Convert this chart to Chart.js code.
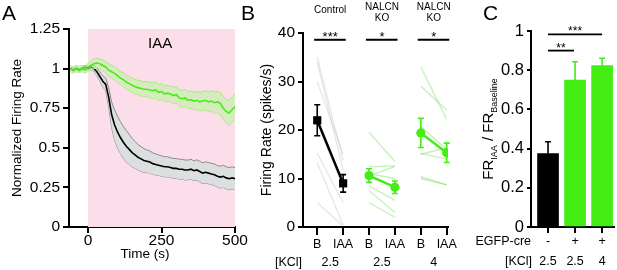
<!DOCTYPE html>
<html>
<head>
<meta charset="utf-8">
<script src="https://cdn.jsdelivr.net/npm/chart.js@4.4.1/dist/chart.umd.min.js"></script>
<style>
  body { margin: 0; background: #fff; }
  #figure { position: relative; width: 617px; height: 270px; overflow: hidden; }
  #figure canvas { position: absolute; top: 0; }
</style>
</head>
<body>
<div id="figure">
  <canvas id="panelA" width="252" height="270" style="left:0px"></canvas>
  <canvas id="panelB" width="222" height="270" style="left:238px"></canvas>
  <canvas id="panelC" width="157" height="270" style="left:460px"></canvas>
</div>
<script>
// ---- panel A: normalized firing rate over time ----
const timeS = [-60, -50, -40, -30, -20, -10, 0, 10, 20, 30, 40, 50, 60, 70, 80, 90, 100,
  110, 120, 130, 140, 150, 160, 170, 180, 190, 200, 210, 220, 230, 240, 250, 260, 270,
  280, 290, 300, 310, 320, 330, 340, 350, 360, 370, 380, 390, 400, 410, 420, 430, 440,
  450, 460, 470, 480, 490, 500];
const ctrlMean = [1.00, 0.99, 1.00, 0.99, 1.00, 1.01, 1.00, 1.01, 1.00, 0.98, 0.95, 0.92,
  0.90, 0.82, 0.71, 0.645, 0.60, 0.565, 0.535, 0.51, 0.49, 0.47, 0.455, 0.44, 0.43, 0.42,
  0.415, 0.41, 0.40, 0.395, 0.39, 0.385, 0.38, 0.38, 0.375, 0.37, 0.37, 0.365, 0.365,
  0.36, 0.36, 0.365, 0.355, 0.36, 0.35, 0.34, 0.345, 0.34, 0.335, 0.33, 0.32, 0.315,
  0.32, 0.31, 0.305, 0.31, 0.305];
const ctrlSem = [0.01, 0.01, 0.01, 0.01, 0.01, 0.01, 0.01, 0.015, 0.02, 0.025, 0.03, 0.035,
  0.04, 0.06, 0.08, 0.095, 0.10, 0.10, 0.10, 0.10, 0.095, 0.09, 0.085, 0.08, 0.078, 0.075,
  0.072, 0.07, 0.068, 0.066, 0.065, 0.064, 0.063, 0.064, 0.062, 0.063, 0.062, 0.063, 0.062,
  0.063, 0.062, 0.063, 0.062, 0.064, 0.065, 0.066, 0.066, 0.067, 0.067, 0.068, 0.068, 0.069,
  0.07, 0.07, 0.07, 0.07, 0.07];
const koMean = [1.00, 0.99, 1.00, 0.995, 1.00, 0.99, 1.01, 1.02, 1.03, 1.035, 1.03, 1.02,
  1.01, 0.99, 0.98, 0.97, 0.955, 0.94, 0.93, 0.915, 0.905, 0.895, 0.885, 0.88, 0.875, 0.87,
  0.87, 0.865, 0.86, 0.865, 0.85, 0.855, 0.84, 0.845, 0.84, 0.83, 0.835, 0.815, 0.81,
  0.815, 0.80, 0.805, 0.795, 0.80, 0.79, 0.795, 0.80, 0.79, 0.795, 0.785, 0.79, 0.78,
  0.75, 0.73, 0.72, 0.74, 0.76];
const koSem = [0.02, 0.02, 0.02, 0.02, 0.02, 0.02, 0.025, 0.03, 0.03, 0.03, 0.03, 0.035,
  0.035, 0.04, 0.04, 0.04, 0.042, 0.042, 0.044, 0.044, 0.045, 0.045, 0.046, 0.046, 0.047,
  0.047, 0.048, 0.048, 0.049, 0.05, 0.05, 0.05, 0.05, 0.051, 0.051, 0.052, 0.052, 0.053,
  0.053, 0.054, 0.055, 0.055, 0.056, 0.057, 0.058, 0.059, 0.06, 0.062, 0.064, 0.066, 0.068,
  0.07, 0.072, 0.075, 0.078, 0.08, 0.08];
const timeTicks = [0, 250, 500];
const rateTicks = [0, 0.25, 0.5, 0.75, 1, 1.25];
const iaaWindow = [0, 500];

// ---- panel B: paired firing rates ----
const pairLabels = ['B', 'IAA', 'B', 'IAA', 'B', 'IAA'];
const groupNames = [['Control'], ['NALCN', 'KO'], ['NALCN', 'KO']];
const kclLevels = ['2.5', '2.5', '4'];
const groupStars = ['***', '*', '*'];
const ctrlCells = [[35, 13.8], [34, 11.7], [30, 15], [21.5, 8.2], [15.2, 5], [13.2, 0.4], [5, 0.2]];
const koLowCells = [[19.5, 13.5], [12.4, 12.6], [11, 10], [10.5, 12.5], [8.5, 5.5], [7.5, 3], [5, 2]];
const koHighCells = [[33, 22.2], [29, 24.1], [20.7, 16], [15, 16.3], [15.2, 14], [10.4, 8.7], [10, 8.7]];
const pairMeans = [[22, 9], [10.6, 8.2], [19.4, 15.3]];
const pairErrs = [[3.2, 1.8], [1.4, 1.3], [3, 2]];
const spikeTicks = [0, 10, 20, 30, 40];

// ---- panel C: IAA / baseline ratio ----
const ratioMeans = [0.375, 0.75, 0.823];
const ratioErrs = [0.06, 0.093, 0.038];
const egfpRow = ['-', '+', '+'];
const kclRowC = ['2.5', '2.5', '4'];
const ratioTicks = [0, 0.2, 0.4, 0.6, 0.8, 1];
const ratioSig = [[0, 2, 0.983, '***'], [0, 0.96, 0.9, '**']];

const FONT = '"Liberation Sans", Arial, Helvetica, sans-serif';
const GREEN = '#44ee14';
Chart.defaults.font.family = FONT;
Chart.defaults.color = '#000';

function font(px) { return px + 'px ' + FONT; }

function axisBase(tickLen) {
    return {
        z: 1,
        border: { display: true, color: '#000', width: 2 },
        grid: { display: true, drawOnChartArea: false, drawTicks: true, tickLength: tickLen, color: '#000', lineWidth: 2, offset: false },
    };
}

// panel letter drawn in the top left corner
function panelLetter(letter, x) {
    return {
        id: 'letter' + letter,
        afterDraw(chart) {
            const ctx = chart.ctx;
            ctx.save();
            ctx.font = font(21);
            ctx.fillStyle = '#000';
            ctx.textBaseline = 'alphabetic';
            ctx.fillText(letter, x, 20);
            ctx.restore();
        }
    };
}

/**
 * Panel A
 */
const iaaShade = {
    id: 'iaaShade',
    beforeDatasetsDraw(chart) {
        const { ctx, scales: { x, y } } = chart;
        const left = x.getPixelForValue(iaaWindow[0]);
        const right = x.getPixelForValue(iaaWindow[1]);
        const top = y.getPixelForValue(1.25);
        const bottom = y.getPixelForValue(0);
        ctx.save();
        ctx.fillStyle = '#fcdeea';
        ctx.fillRect(left, top, right - left, bottom - top);
        ctx.fillStyle = '#000';
        ctx.font = font(15);
        ctx.textAlign = 'center';
        ctx.textBaseline = 'middle';
        ctx.fillText('IAA', x.getPixelForValue(245), y.getPixelForValue(1.155));
        ctx.restore();
    },
    afterDraw(chart) {
        const ctx = chart.ctx;
        ctx.save();
        ctx.font = font(13.5);
        ctx.fillStyle = '#000';
        ctx.textAlign = 'center';
        ctx.textBaseline = 'middle';
        ctx.fillText('Time (s)', 145, 254);
        ctx.restore();
    }
};

const toPoints = (vals) => vals.map((v, i) => ({ x: timeS[i], y: v }));
const bandEdge = (mean, sem, sign) => mean.map((v, i) => ({ x: timeS[i], y: v + sign * sem[i] }));

new Chart(document.getElementById('panelA'), {
    type: 'line',
    data: {
        datasets: [
            { data: toPoints(koMean), borderColor: GREEN, borderWidth: 1.6 },
            { data: bandEdge(koMean, koSem, 1), borderColor: '#a2ee7c', borderWidth: 1, fill: '+1', backgroundColor: 'rgba(190,245,160,0.6)' },
            { data: bandEdge(koMean, koSem, -1), borderColor: '#a2ee7c', borderWidth: 1 },
            { data: toPoints(ctrlMean), borderColor: '#000', borderWidth: 1.6 },
            { data: bandEdge(ctrlMean, ctrlSem, 1), borderColor: '#8a8a8a', borderWidth: 1, fill: '+1', backgroundColor: 'rgba(218,222,222,0.95)' },
            { data: bandEdge(ctrlMean, ctrlSem, -1), borderColor: '#8a8a8a', borderWidth: 1 }
        ]
    },
    options: {
        responsive: false,
        animation: false,
        layout: { padding: { left: 0, top: 29, right: 17, bottom: 0 } },
        elements: { point: { radius: 0 }, line: { tension: 0 } },
        plugins: { legend: { display: false }, tooltip: { enabled: false } },
        scales: {
            x: Object.assign(axisBase(6), {
                type: 'linear', min: -65, max: 500,
                ticks: { font: { size: 15.5 }, color: '#000', padding: -2, maxRotation: 0 },
                afterBuildTicks: (s) => { s.ticks = timeTicks.map(v => ({ value: v })); },
                afterFit: (s) => { s.height = 43; s.paddingLeft = 0; s.paddingRight = 0; }
            }),
            y: Object.assign(axisBase(6), {
                min: 0, max: 1.25,
                ticks: { font: { size: 15.5 }, color: '#000', padding: 3, callback: (v) => String(v) },
                title: { display: true, text: 'Normalized Firing Rate', font: { size: 13.5 }, color: '#000', padding: { top: 9, bottom: 0 } },
                afterBuildTicks: (s) => { s.ticks = rateTicks.map(v => ({ value: v })); },
                afterFit: (s) => { s.width = 69; s.paddingTop = 0; s.paddingBottom = 0; }
            })
        }
    },
    plugins: [iaaShade, panelLetter('A', 2)]
});

/**
 * Panel B
 */
const groupCells = [ctrlCells, koLowCells, koHighCells];
const groupColors = ['#000', GREEN, GREEN];
const cellColors = ['rgba(190,196,196,0.4)', 'rgba(130,230,110,0.5)', 'rgba(130,230,110,0.5)'];
const markerStyles = ['rect', 'circle', 'circle'];
const markerSizes = [5.8, 4.6, 4.6];

const pairDatasets = [];
pairMeans.forEach((m, g) => {
    pairDatasets.push({
        data: [{ x: 2 * g, y: m[0] }, { x: 2 * g + 1, y: m[1] }],
        borderColor: groupColors[g], borderWidth: 2.5,
        pointStyle: markerStyles[g], pointRadius: markerSizes[g],
        pointBackgroundColor: groupColors[g], pointBorderWidth: 0
    });
});
groupCells.forEach((cells, g) => {
    cells.forEach(c => {
        pairDatasets.push({
            data: [{ x: 2 * g, y: c[0] }, { x: 2 * g + 1, y: c[1] }],
            borderColor: cellColors[g], borderWidth: 1.3, pointRadius: 0
        });
    });
});

const pairExtras = {
    id: 'pairExtras',
    afterDatasetsDraw(chart) {
        const { ctx, scales: { x, y } } = chart;
        ctx.save();
        ctx.lineWidth = 1.6;
        pairMeans.forEach((m, g) => {
            ctx.strokeStyle = groupColors[g];
            m.forEach((v, k) => {
                const px = x.getPixelForValue(2 * g + k);
                const hi = y.getPixelForValue(v + pairErrs[g][k]);
                const lo = y.getPixelForValue(v - pairErrs[g][k]);
                ctx.beginPath();
                ctx.moveTo(px, hi); ctx.lineTo(px, lo);
                ctx.moveTo(px - 3, hi); ctx.lineTo(px + 3, hi);
                ctx.moveTo(px - 3, lo); ctx.lineTo(px + 3, lo);
                ctx.stroke();
            });
        });
        ctx.restore();
    },
    afterDraw(chart) {
        const { ctx, chartArea, scales: { x, y } } = chart;
        ctx.save();
        ctx.fillStyle = '#000';
        ctx.strokeStyle = '#000';
        ctx.textAlign = 'center';
        groupNames.forEach((lines, g) => {
            const cx = (x.getPixelForValue(2 * g) + x.getPixelForValue(2 * g + 1)) / 2;
            // group heading
            ctx.font = font(10);
            ctx.textBaseline = 'middle';
            if (lines.length === 1) {
                ctx.fillText(lines[0], cx, 10.5);
            } else {
                ctx.fillText(lines[0], cx, 7);
                ctx.fillText(lines[1], cx, 18.5);
            }
            // significance bar
            const barY = y.getPixelForValue(38.6);
            ctx.lineWidth = 2;
            ctx.beginPath();
            ctx.moveTo(x.getPixelForValue(2 * g - 0.12), barY);
            ctx.lineTo(x.getPixelForValue(2 * g + 1.1), barY);
            ctx.stroke();
            ctx.font = font(13);
            ctx.textBaseline = 'alphabetic';
            ctx.fillText(groupStars[g], cx, barY + 1);
            // KCl row
            ctx.font = font(12.5);
            ctx.textBaseline = 'middle';
            ctx.fillText(kclLevels[g], cx, 263);
        });
        ctx.textAlign = 'right';
        ctx.fillText('[KCl]', chartArea.left - 1, 263);
        ctx.restore();
    }
};

new Chart(document.getElementById('panelB'), {
    type: 'line',
    data: { datasets: pairDatasets },
    options: {
        responsive: false,
        animation: false,
        layout: { padding: { left: 0, top: 33, right: 12, bottom: 0 } },
        elements: { line: { tension: 0 } },
        plugins: { legend: { display: false }, tooltip: { enabled: false } },
        scales: {
            x: Object.assign(axisBase(8), {
                type: 'linear', min: -0.55, max: 5.05,
                ticks: { font: { size: 12.5 }, color: '#000', padding: 2, maxRotation: 0, callback: (v) => pairLabels[v] },
                afterBuildTicks: (s) => { s.ticks = pairLabels.map((_, i) => ({ value: i })); },
                afterFit: (s) => { s.height = 43; s.paddingLeft = 0; s.paddingRight = 0; }
            }),
            y: Object.assign(axisBase(5), {
                min: 0, max: 40,
                ticks: { font: { size: 15.5 }, color: '#000', padding: 3 },
                title: { display: true, text: 'Firing Rate (spikes/s)', font: { size: 14 }, color: '#000', padding: { top: 21, bottom: 0 } },
                afterBuildTicks: (s) => { s.ticks = spikeTicks.map(v => ({ value: v })); },
                afterFit: (s) => { s.width = 65; s.paddingTop = 0; s.paddingBottom = 0; }
            })
        }
    },
    plugins: [pairExtras, panelLetter('B', 3)]
});

/**
 * Panel C
 */
const barColors = ['#000', GREEN, GREEN];

const ratioExtras = {
    id: 'ratioExtras',
    afterDatasetsDraw(chart) {
        const { ctx, scales: { x, y } } = chart;
        ctx.save();
        ctx.lineWidth = 1.6;
        ratioMeans.forEach((v, i) => {
            const px = x.getPixelForValue(i);
            const top = y.getPixelForValue(v);
            const hi = y.getPixelForValue(v + ratioErrs[i]);
            ctx.strokeStyle = barColors[i];
            ctx.beginPath();
            ctx.moveTo(px, top); ctx.lineTo(px, hi);
            ctx.moveTo(px - 3, hi); ctx.lineTo(px + 3, hi);
            ctx.stroke();
        });
        ctx.restore();
    },
    afterDraw(chart) {
        const { ctx, chartArea, scales: { x, y } } = chart;
        ctx.save();
        ctx.fillStyle = '#000';
        ctx.strokeStyle = '#000';
        // significance bars
        ratioSig.forEach(([from, to, level, stars]) => {
            const barY = y.getPixelForValue(level);
            const x0 = x.getPixelForValue(from), x1 = x.getPixelForValue(to);
            ctx.lineWidth = 1.8;
            ctx.beginPath();
            ctx.moveTo(x0, barY); ctx.lineTo(x1, barY);
            ctx.stroke();
            ctx.font = font(12);
            ctx.textAlign = 'center';
            ctx.textBaseline = 'alphabetic';
            ctx.fillText(stars, (x0 + x1) / 2, barY + 1);
        });
        // rows under the axis
        ctx.font = font(12.5);
        ctx.textBaseline = 'middle';
        ctx.textAlign = 'center';
        egfpRow.forEach((t, i) => ctx.fillText(t, x.getPixelForValue(i), 242));
        kclRowC.forEach((t, i) => ctx.fillText(t, x.getPixelForValue(i), 262));
        ctx.textAlign = 'right';
        ctx.fillText('EGFP-cre', chartArea.left, 242);
        ctx.fillText('[KCl]', chartArea.left + 1, 262);
        // y title with subscripts
        const parts = [['FR', 15, 0], ['IAA', 9, 3.5], [' / FR', 15, 0], ['Baseline', 9, 3.5]];
        let total = 0;
        parts.forEach(p => { ctx.font = font(p[1]); total += ctx.measureText(p[0]).width; });
        ctx.translate(28, (chartArea.top + chartArea.bottom) / 2);
        ctx.rotate(-Math.PI / 2);
        ctx.textAlign = 'left';
        ctx.textBaseline = 'alphabetic';
        let pos = -total / 2;
        parts.forEach(p => {
            ctx.font = font(p[1]);
            ctx.fillText(p[0], pos, 5 + p[2]);
            pos += ctx.measureText(p[0]).width;
        });
        ctx.restore();
    }
};

new Chart(document.getElementById('panelC'), {
    type: 'bar',
    data: {
        datasets: [{
            data: ratioMeans.map((v, i) => ({ x: i, y: v })),
            backgroundColor: barColors, borderWidth: 0, barThickness: 21
        }]
    },
    options: {
        responsive: false,
        animation: false,
        layout: { padding: { left: 0, top: 31, right: 3, bottom: 0 } },
        plugins: { legend: { display: false }, tooltip: { enabled: false } },
        scales: {
            x: Object.assign(axisBase(6), {
                type: 'linear', min: -0.63, max: 2.44, offset: false,
                ticks: { display: true, callback: () => '', padding: 0 },
                afterBuildTicks: (s) => { s.ticks = ratioMeans.map((_, i) => ({ value: i })); },
                afterFit: (s) => { s.height = 43; s.paddingLeft = 0; s.paddingRight = 0; }
            }),
            y: Object.assign(axisBase(4), {
                min: 0, max: 1,
                ticks: { font: { size: 16.5 }, color: '#000', padding: 3, callback: (v) => String(Math.round(v * 10) / 10) },
                afterBuildTicks: (s) => { s.ticks = ratioTicks.map(v => ({ value: v })); },
                afterFit: (s) => { s.width = 71; s.paddingTop = 0; s.paddingBottom = 0; }
            })
        }
    },
    plugins: [ratioExtras, panelLetter('C', 23)]
});
</script>
</body>
</html>
